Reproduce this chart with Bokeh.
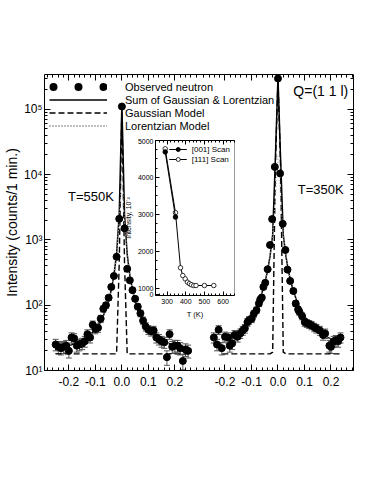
import numpy as np
from bokeh.plotting import figure
from bokeh.models import (Range1d, LogAxis, LinearAxis, FixedTicker, Whisker, TeeHead,
                          ColumnDataSource, Legend, LegendItem, CustomJSTickFormatter, Label)
from bokeh.layouts import column
from bokeh.embed import file_html
from bokeh.resources import INLINE

FONT = "Liberation Sans"

# ---------------- data ----------------
left_title = "T=550K"
right_title = "T=350K"
q_title = "Q=(1 1 l)"
x_title = "(1,1,l) (rlu)"
y_title = "Intensity (counts/1 min.)"

# T = 550 K scan (left panel): l (rlu) and counts / 1 min
left_l = [-0.25, -0.24, -0.23, -0.22, -0.21, -0.20, -0.19, -0.18, -0.17, -0.16,
          -0.15, -0.14, -0.13, -0.12, -0.11, -0.10, -0.09, -0.08, -0.07, -0.06,
          -0.05, -0.04, -0.03, -0.02, -0.01, 0.00, 0.01, 0.02, 0.03, 0.04,
          0.05, 0.06, 0.07, 0.08, 0.09, 0.10, 0.11, 0.12, 0.13, 0.14,
          0.15, 0.16, 0.17, 0.18, 0.19, 0.20, 0.21, 0.22, 0.23, 0.24, 0.25]
left_counts = [25, 23, 22, 23, 24, 20, 32, 31, 24, 25,
               26, 28, 36, 32, 50, 43, 45, 62, 88, 100,
               130, 190, 280, 550, 2100, 110000, 1500, 360, 240, 170,
               125, 95, 75, 58, 47, 42, 40, 41, 32, 30,
               28, 27, 16, 36, 23, 24, 24, 22, 14, 21, 20]

# T = 350 K scan (right panel)
right_l = [-0.242, -0.230, -0.224, -0.212, -0.200, -0.188, -0.182, -0.173, -0.164, -0.152,
           -0.142, -0.133, -0.125, -0.115, -0.109, -0.099, -0.091, -0.081, -0.072, -0.067,
           -0.061, -0.055, -0.048, -0.039, -0.030, -0.022, -0.012, 0.000, 0.008, 0.018,
           0.028, 0.036, 0.046, 0.058, 0.067, 0.076, 0.081, 0.091, 0.101, 0.109,
           0.118, 0.127, 0.137, 0.145, 0.158, 0.170, 0.178, 0.194, 0.200, 0.210,
           0.218, 0.227, 0.236]
right_counts = [32, 25, 42, 22, 33, 32, 24, 26, 35, 33,
                37, 41, 44, 55, 59, 62, 74, 84, 106, 122,
                131, 190, 220, 355, 835, 2080, 13100, 296000, 10400, 1760,
                700, 350, 235, 165, 106, 86, 79, 68, 55, 53,
                51, 49, 46, 44, 41, 35, 37, 24, 23, 28,
                29, 28, 32]

# fitted model parameters
background = 18.0
left_gauss_amp, left_gauss_sigma = 1.1e5, 0.003
left_lor_amp, left_lor_gamma = 1.0e4, 0.005
right_gauss_amp, right_gauss_sigma = 2.9e5, 0.004
right_lor_amp, right_lor_gamma = 2.0e4, 0.005
left_model_span = (-0.25, 0.25)
right_model_span = (-0.21, 0.24)

x_tick_values = [-0.2, -0.1, 0.0, 0.1, 0.2]
y_tick_values = [10, 100, 1000, 10000, 100000]
y_tick_labels = ["10¹", "10²", "10³", "10⁴", "10⁵"]

legend_labels = ["Observed neutron", "Sum of Gaussian & Lorentzian",
                 "Gaussian Model", "Lorentzian Model"]

# inset: peak intensity (x10^-2) vs temperature
inset_T_001 = [290, 345]
inset_I_001 = [4690, 2930]
inset_T_111 = [290, 345, 372, 384, 397, 409, 420, 430, 443, 455, 500, 550]
inset_I_111 = [4775, 3050, 1560, 1350, 1260, 1170, 1130, 1100, 1080, 1080, 1080, 1080]
inset_x_ticks = [300, 400, 500, 600]
inset_y_ticks = [850, 1000, 2000, 3000, 4000, 5000]
inset_y_labels = ["0", "1000", "2000", "3000", "4000", "5000"]
inset_legend = ["[001] Scan", "[111] Scan"]
inset_x_title = "T (K)"
inset_y_title = "Intensity, 10⁻²"

# ---------------- main figure ----------------
SHIFT = 0.589  # horizontal offset of the right (350 K) panel on the shared axis
MAIN_H = 418

p = figure(width=358, height=MAIN_H, x_range=Range1d(-0.292, SHIFT + 0.285),
           y_range=Range1d(10, 3.4e5), y_axis_type="log",
           output_backend="svg", toolbar_location=None,
           min_border_left=40, min_border_right=5, min_border_top=74, min_border_bottom=48)
p.outline_line_color = None
p.xgrid.visible = False
p.ygrid.visible = False
p.background_fill_color = "white"

blank_fmt = CustomJSTickFormatter(code="return '';")


def style_axis(ax, show_labels=True, size="12px", tin=6, tmin=3):
    ax.axis_line_color = "black"
    ax.axis_line_width = 1
    ax.major_tick_in = tin
    ax.major_tick_out = 0
    ax.minor_tick_in = tmin
    ax.minor_tick_out = 0
    ax.major_tick_line_color = "black"
    ax.minor_tick_line_color = "black"
    ax.major_label_text_font = FONT
    ax.major_label_text_font_size = size
    ax.major_label_text_color = "black"
    ax.axis_label_text_color = "black"
    ax.major_label_standoff = 3
    if not show_labels:
        ax.formatter = blank_fmt
        ax.major_label_standoff = 0


minor_base = np.round(np.arange(-0.28, 0.2801, 0.02), 3)
xticker = FixedTicker(ticks=x_tick_values + [v + SHIFT for v in x_tick_values],
                      minor_ticks=list(minor_base) + list(minor_base + SHIFT))
xfmt = CustomJSTickFormatter(args=dict(shift=SHIFT), code="""
let v = tick > 0.3 ? tick - shift : tick;
if (Math.abs(v) < 1e-9) { v = 0; }
return v.toFixed(1);
""")
ymin = [m * 10 ** k for k in range(1, 6) for m in range(2, 10)]
yticker = FixedTicker(ticks=y_tick_values, minor_ticks=ymin)
yfmt = CustomJSTickFormatter(args=dict(vals=y_tick_values, labs=y_tick_labels), code="""
for (let i = 0; i < vals.length; i++) {
  if (Math.abs(tick - vals[i]) <= 1e-6 * vals[i]) { return labs[i]; }
}
return "";
""")

bx = p.xaxis[0]
bx.ticker = xticker
style_axis(bx)
bx.formatter = xfmt
bx.major_label_standoff = 6

ly = p.yaxis[0]
ly.ticker = yticker
style_axis(ly)
ly.formatter = yfmt
ly.major_label_standoff = 2
ly.axis_label = y_title
ly.axis_label_text_font = FONT
ly.axis_label_text_font_size = "14px"
ly.axis_label_text_font_style = "normal"
ly.axis_label_standoff = 1

top = LinearAxis(ticker=xticker)
style_axis(top, show_labels=False)
p.add_layout(top, "above")
ry = LogAxis(ticker=yticker)
style_axis(ry, show_labels=False)
p.add_layout(ry, "right")


def draw_panel(xs, ys, shift, ga, gs, la, lg, span):
    x = np.asarray(xs, float) + shift
    y = np.asarray(ys, float)
    err = np.sqrt(y)
    src = ColumnDataSource(dict(x=x, y=y, lo=y - err, hi=y + err))
    p.add_layout(Whisker(source=src, base="x", lower="lo", upper="hi",
                         line_color="#555555", line_width=1,
                         lower_head=TeeHead(size=6, line_color="#555555", line_width=1),
                         upper_head=TeeHead(size=6, line_color="#555555", line_width=1)))
    q = np.round(np.arange(span[0], span[1] + 1e-9, 0.01), 3)
    gauss = ga * np.exp(-q ** 2 / (2 * gs ** 2))
    lor = la * lg ** 2 / (q ** 2 + lg ** 2)
    g = p.line(q + shift, background + gauss, line_color="black", line_width=1.4, line_dash="6 3")
    s = p.line(q + shift, background + gauss + lor, line_color="black", line_width=1.5)
    l = p.line(q + shift, background + lor, line_color="#bbbbbb", line_width=1.0, line_dash="1 2")
    p.scatter("x", "y", source=src, size=7, color="black")
    return s, g, l


s_l, g_l, l_l = draw_panel(left_l, left_counts, 0.0, left_gauss_amp, left_gauss_sigma,
                           left_lor_amp, left_lor_gamma, left_model_span)
draw_panel(right_l, right_counts, SHIFT, right_gauss_amp, right_gauss_sigma,
           right_lor_amp, right_lor_gamma, right_model_span)

# legend samples (off-range renderers used only for the legend glyphs)
dots = p.line(x=[0.0], y=[1.0], line_color="black", line_width=8, line_dash="0 25",
              line_dash_offset=21, line_cap="round")
leg_dashed = p.line(x=[0.0], y=[1.0], line_color="black", line_width=1.4, line_dash="6 3")
leg_dotted = p.line(x=[0.0], y=[1.0], line_color="black", line_width=1.2, line_dash="1 2")
legend = Legend(items=[LegendItem(label=legend_labels[0], renderers=[dots]),
                       LegendItem(label=legend_labels[1], renderers=[s_l]),
                       LegendItem(label=legend_labels[2], renderers=[leg_dashed]),
                       LegendItem(label=legend_labels[3], renderers=[leg_dotted])],
                location=(3, 236), glyph_width=58, glyph_height=13, label_height=13,
                spacing=0, padding=2, margin=0, label_standoff=18,
                label_text_font=FONT, label_text_font_size="11px", label_text_color="black",
                border_line_alpha=0, background_fill_alpha=0)
p.add_layout(legend)

for txt, x, y, size in [(left_title, -0.03, 4600, "13px"),
                        (right_title, SHIFT + 0.248, 5900, "13px"),
                        (q_title, SHIFT + 0.265, 1.9e5, "14px")]:
    p.add_layout(Label(x=x, y=y, text=txt, text_align="right", text_baseline="middle",
                       text_font=FONT, text_font_size=size, text_color="black"))
for x0 in (0.0, SHIFT):
    p.add_layout(Label(x=x0, y=-34, y_units="screen", text=x_title, text_align="center",
                       text_baseline="middle", text_font=FONT, text_font_size="14px",
                       text_color="black"))

# ---------------- inset ----------------
INS_W, INS_H = 128, 185
ins = figure(width=INS_W, height=INS_H, x_range=Range1d(238, 661), y_range=Range1d(810, 5000),
             output_backend="svg", toolbar_location=None,
             min_border_left=30, min_border_right=3, min_border_top=2, min_border_bottom=28)
ins.border_fill_color = None
ins.background_fill_color = "white"
ins.outline_line_color = "#9a9a9a"
ins.xgrid.visible = False
ins.ygrid.visible = False

ixt = FixedTicker(ticks=inset_x_ticks, minor_ticks=list(range(240, 661, 20)))
iyt = FixedTicker(ticks=inset_y_ticks, minor_ticks=[v for v in range(1250, 5000, 250) if v % 1000])
ins.xaxis[0].ticker = ixt
style_axis(ins.xaxis[0], size="7px", tin=4, tmin=2)
ins.xaxis[0].major_label_standoff = 3
ins.xaxis[0].axis_label = inset_x_title
ins.xaxis[0].axis_label_text_font = FONT
ins.xaxis[0].axis_label_text_font_size = "7.5px"
ins.xaxis[0].axis_label_text_font_style = "normal"
ins.xaxis[0].axis_label_standoff = 3
ins.yaxis[0].ticker = iyt
style_axis(ins.yaxis[0], size="7px", tin=4, tmin=2)
ins.yaxis[0].formatter = CustomJSTickFormatter(
    args=dict(vals=inset_y_ticks, labs=inset_y_labels), code="""
for (let i = 0; i < vals.length; i++) { if (Math.abs(tick - vals[i]) < 1e-6) { return labs[i]; } }
return "";
""")
ins.yaxis[0].major_label_standoff = 2
ins.yaxis[0].axis_label = inset_y_title
ins.yaxis[0].axis_label_text_font = FONT
ins.yaxis[0].axis_label_text_font_size = "7px"
ins.yaxis[0].axis_label_text_font_style = "normal"
ins.yaxis[0].axis_label_standoff = 3
itop = LinearAxis(ticker=ixt)
style_axis(itop, show_labels=False, tin=4, tmin=2)
ins.add_layout(itop, "above")

l111 = ins.line(inset_T_111, inset_I_111, line_color="black", line_width=1)
m111 = ins.scatter(inset_T_111, inset_I_111, size=4.5, fill_color="white", line_color="black", line_width=0.8)
l001 = ins.line(inset_T_001, inset_I_001, line_color="black", line_width=1)
m001 = ins.scatter(inset_T_001, inset_I_001, size=4.5, fill_color="black", line_color="black")
ileg = Legend(items=[LegendItem(label=inset_legend[0], renderers=[l001, m001]),
                     LegendItem(label=inset_legend[1], renderers=[l111, m111])],
              location="top_right", glyph_width=18, glyph_height=10, label_height=10,
              spacing=0, padding=1, margin=3, label_standoff=5,
              label_text_font=FONT, label_text_font_size="8px", label_text_color="black",
              border_line_alpha=0, background_fill_alpha=0)
ins.add_layout(ileg)
INS_TOP, INS_LEFT = 138, 111
ins.margin = (INS_TOP - MAIN_H, 0, MAIN_H - INS_TOP - INS_H, INS_LEFT)

layout = column(p, ins)
open("out.html", "w").write(file_html(layout, INLINE))
